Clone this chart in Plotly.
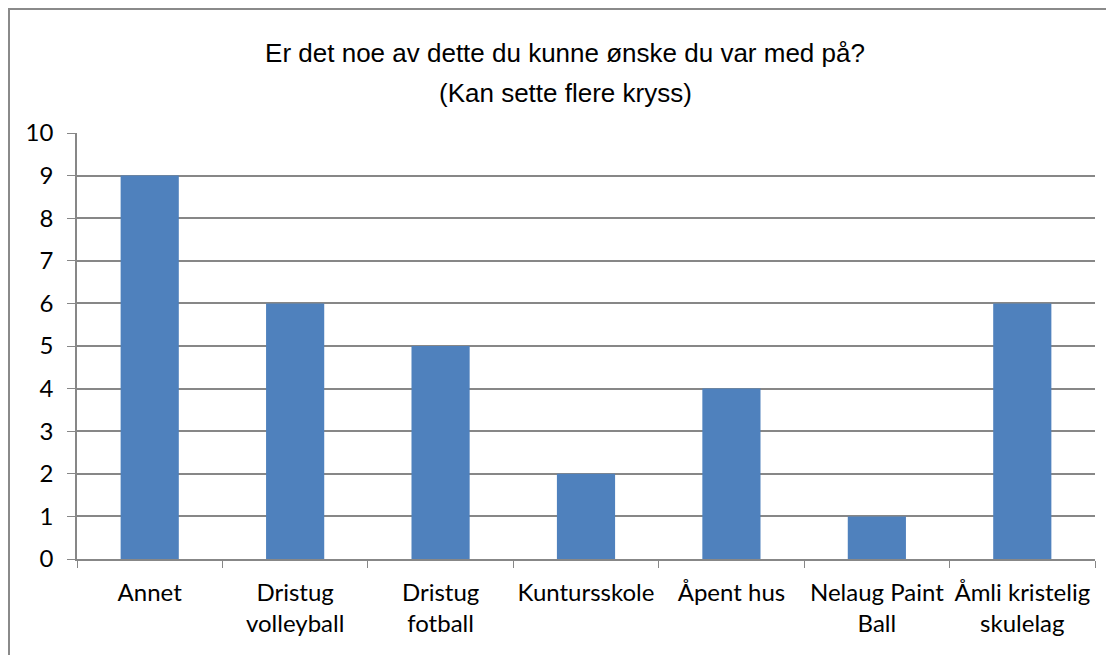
import plotly.graph_objects as go

categories = ["Annet", "Dristug<br>volleyball", "Dristug<br>fotball", "Kuntursskole",
              "Åpent hus", "Nelaug Paint<br>Ball", "Åmli kristelig<br>skulelag"]
values = [9, 6, 5, 2, 4, 1, 6]
title_line1 = "Er det noe av dette du kunne ønske du var med på?"
title_line2 = "(Kan sette flere kryss)"

# page has an 8px body margin; size figure so plot area lands where the reference has it
OFF = 8
W, H = 1114 - OFF, 655 - OFF
L, R, T, B = 69, 19, 125, 96
pw, ph = W - L - R, H - T - B

fig = go.Figure(go.Bar(x=categories, y=values, marker=dict(color="#4F81BD", line=dict(width=0)),
                       width=0.4))

grid = "#878787"
title_font = dict(family="Liberation Sans, Arial", size=26, color="black")
fig.update_layout(
    width=W, height=H,
    margin=dict(l=L, r=R, t=T, b=B, autoexpand=False),
    paper_bgcolor="white", plot_bgcolor="white",
    font=dict(family="Lato, Open Sans, sans-serif", size=24, color="black"),
    title=dict(text=title_line1, x=(565 - OFF) / W, xanchor="center",
               y=1 - (53 - OFF) / H, yanchor="middle", font=title_font),
    showlegend=False,
    bargap=0.6,
)
fig.add_annotation(text=title_line2, xref="paper", yref="paper",
                   x=(565 - OFF - L) / pw, y=(H - B - (93 - OFF)) / ph,
                   xanchor="center", yanchor="middle", showarrow=False, font=title_font)

fig.update_xaxes(type="category", tickson="boundaries", ticks="outside", ticklen=7,
                 tickcolor=grid, showline=True, linecolor=grid, linewidth=1.5,
                 showgrid=False, tickfont=dict(size=24), ticklabelstandoff=11,
                 tickangle=0, automargin=False)
fig.update_yaxes(range=[0, 10], dtick=1, ticks="outside", ticklen=8, tickcolor=grid,
                 showline=True, linecolor=grid, linewidth=1.5, showgrid=True, gridcolor=grid,
                 gridwidth=1.5, zeroline=False, tickfont=dict(size=24), ticklabelstandoff=9,
                 automargin=False)

# outer chart border (extends beyond the visible window on right and bottom)
fig.add_shape(type="rect", xref="paper", yref="paper",
              x0=(1 - L) / pw, x1=(W + 40 - L) / pw,
              y0=(H - B - (H + 40)) / ph, y1=(H - B - 1) / ph,
              line=dict(color="#8a8a8a", width=2), fillcolor="rgba(0,0,0,0)", layer="below")

fig.write_html("out.html")
